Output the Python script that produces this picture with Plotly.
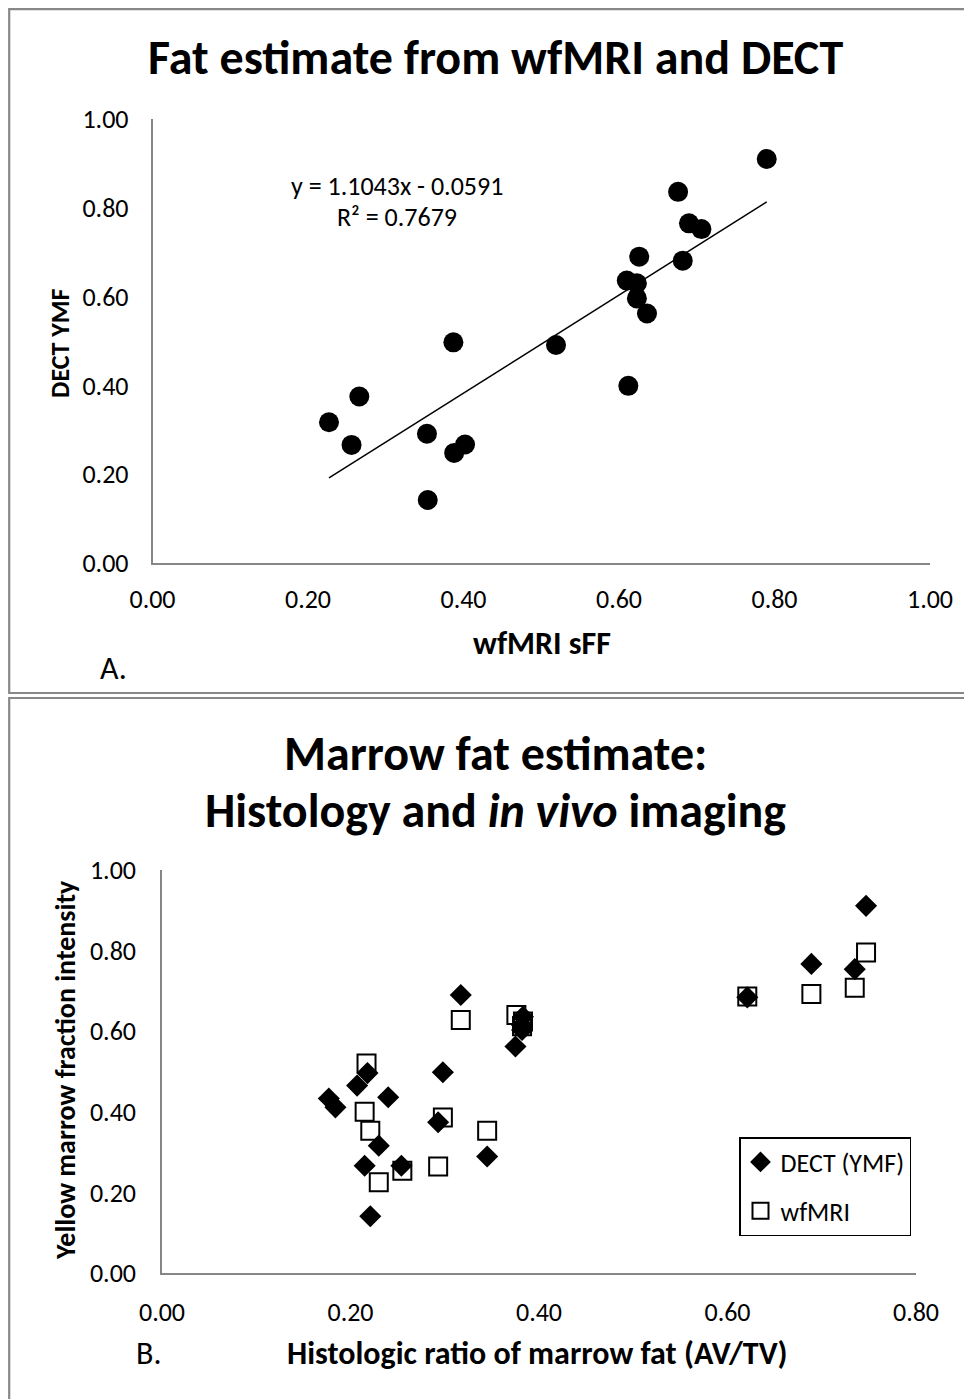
import plotly.graph_objects as go

# page has an 8px body margin; figure sized to fit the 972x1399 window
OFF = 8
W, H = 972 - OFF, 1399 - OFF
FONT = "Carlito, 'Liberation Sans Narrow', 'Liberation Sans', sans-serif"

# ---- Panel A data (wfMRI sFF vs DECT YMF) ----
wfmri_sff = [0.790, 0.676, 0.690, 0.706, 0.626, 0.682, 0.610, 0.623, 0.623, 0.636,
             0.519, 0.387, 0.612, 0.266, 0.227, 0.256, 0.353, 0.402, 0.388, 0.354]
dect_ymf = [0.910, 0.836, 0.765, 0.752, 0.690, 0.681, 0.636, 0.630, 0.596, 0.562,
            0.491, 0.497, 0.399, 0.375, 0.317, 0.266, 0.291, 0.267, 0.248, 0.142]
trend_slope = 1.1043
trend_intercept = -0.0591
r_squared = 0.7679

# ---- Panel B data (histology vs imaging) ----
hist_dect = [0.747, 0.689, 0.735, 0.621, 0.317, 0.383, 0.382, 0.382, 0.375, 0.298,
             0.218, 0.207, 0.177, 0.184, 0.240, 0.293, 0.230, 0.345, 0.215, 0.254, 0.221]
ymf_dect = [0.911, 0.767, 0.754, 0.684, 0.690, 0.636, 0.615, 0.603, 0.562, 0.498,
            0.496, 0.465, 0.433, 0.411, 0.436, 0.374, 0.316, 0.289, 0.266, 0.266, 0.141]
hist_mri = [0.747, 0.689, 0.735, 0.621, 0.317, 0.376, 0.383, 0.382, 0.217, 0.215,
            0.221, 0.298, 0.345, 0.293, 0.255, 0.230]
sff_mri = [0.795, 0.692, 0.708, 0.686, 0.628, 0.640, 0.624, 0.612, 0.520, 0.400,
           0.353, 0.386, 0.353, 0.264, 0.254, 0.225]

ticks_a = [0.0, 0.2, 0.4, 0.6, 0.8, 1.0]
ticks_bx = [0.0, 0.2, 0.4, 0.6, 0.8]
ticks_by = [0.0, 0.2, 0.4, 0.6, 0.8, 1.0]


def px(x):
    return (x - OFF) / W


def py(y):
    return 1 - (y - OFF) / H


fig = go.Figure()

fig.add_trace(go.Scatter(
    x=wfmri_sff, y=dect_ymf, mode="markers", xaxis="x", yaxis="y",
    marker=dict(symbol="circle", size=20, color="black"), showlegend=False))

tx = [min(wfmri_sff), max(wfmri_sff)]
ty = [trend_slope * v + trend_intercept for v in tx]
fig.add_trace(go.Scatter(
    x=tx, y=ty, mode="lines", xaxis="x", yaxis="y",
    line=dict(color="black", width=1.5), showlegend=False))

fig.add_trace(go.Scatter(
    x=hist_dect, y=ymf_dect, mode="markers", xaxis="x2", yaxis="y2",
    name="DECT (YMF)", legendgroup="a",
    marker=dict(symbol="diamond", size=17, color="black"), showlegend=True))
fig.add_trace(go.Scatter(
    x=hist_mri, y=sff_mri, mode="markers", xaxis="x2", yaxis="y2",
    name="wfMRI", legendgroup="b",
    marker=dict(symbol="square-open", size=18, color="black",
                line=dict(width=2, color="black")), showlegend=True))

axis_common = dict(
    showgrid=False, zeroline=False, showline=True, linecolor="#868686",
    linewidth=1.5, ticks="", tickformat=".2f", automargin=False,
    tickfont=dict(family=FONT, size=26, color="black"))

fig.update_layout(
    template="none",
    width=W, height=H,
    margin=dict(l=0, r=0, t=0, b=0, pad=0, autoexpand=False),
    paper_bgcolor="white", plot_bgcolor="white",
    font=dict(family=FONT, color="black"),
    xaxis=dict(axis_common, domain=[px(152.5), px(930)], range=[0, 1],
               tickvals=ticks_a, anchor="y", ticklabelstandoff=12),
    yaxis=dict(axis_common, domain=[py(563), py(119)], range=[0, 1],
               tickvals=ticks_a, anchor="x", ticklabelstandoff=17),
    xaxis2=dict(axis_common, domain=[px(162), px(916)], range=[0, 0.8],
                tickvals=ticks_bx, anchor="y2", ticklabelstandoff=15),
    yaxis2=dict(axis_common, domain=[py(1273), py(870)], range=[0, 1],
                tickvals=ticks_by, anchor="x2", ticklabelstandoff=19),
    legend=dict(x=px(739), y=py(1137), xanchor="left", yanchor="top",
                bordercolor="black", borderwidth=1.5, bgcolor="white",
                font=dict(family=FONT, size=26, color="black"),
                itemsizing="trace", tracegroupgap=12,
                entrywidth=150),
)

# Panel frames
frame = dict(type="rect", xref="paper", yref="paper",
             line=dict(color="#888888", width=2.2), fillcolor="rgba(0,0,0,0)")
fig.add_shape(frame, x0=px(9.2), x1=px(990), y0=py(693), y1=py(9.2))
fig.add_shape(frame, x0=px(9.2), x1=px(990), y0=py(1420), y1=py(698))

ann = []


def text(x, y, t, size, bold=False, angle=0, xanchor="center"):
    if bold:
        t = "<b>" + t + "</b>"
    ann.append(dict(x=px(x), y=py(y), xref="paper", yref="paper", text=t,
                    showarrow=False, xanchor=xanchor, yanchor="middle",
                    textangle=angle,
                    font=dict(family=FONT, size=size, color="black")))


text(495, 58, "Fat estimate from wfMRI and DECT", 48, bold=True)
text(397, 186, "y = %.4fx - %.4f" % (trend_slope, -trend_intercept), 26)
text(397, 217, "R² = %.4f" % r_squared, 26)
text(60, 343, "DECT YMF", 26, bold=True, angle=-90)
text(542, 643, "wfMRI sFF", 32, bold=True)
text(113, 668, "A.", 32)

text(495, 753, "Marrow fat estimate:", 48, bold=True)
text(495, 810, "Histology and <i>in vivo</i> imaging", 48, bold=True)
text(65, 1070, "Yellow marrow fraction intensity", 28, bold=True, angle=-90)
text(537, 1353, "Histologic ratio of marrow fat (AV/TV)", 32, bold=True)
text(148, 1353, "B.", 32)

fig.update_layout(annotations=ann)

fig.write_html("out.html")
